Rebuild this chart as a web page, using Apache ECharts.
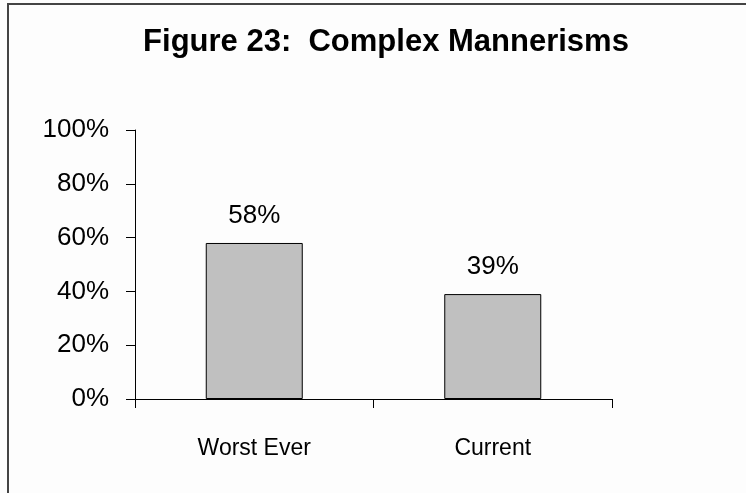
<!DOCTYPE html>
<html>
<head>
<meta charset="utf-8">
<script src="https://cdn.jsdelivr.net/npm/echarts@6/dist/echarts.min.js"></script>
<style>
html, body { margin: 0; padding: 0; background: #fdfdfd; }
#chart { width: 746px; height: 493px; }
</style>
</head>
<body>
<div id="chart"></div>
<script>
var titleText = 'Figure 23:  Complex Mannerisms';
var categories = ['Worst Ever', 'Current'];
var values = [58, 39];
var yTicks = { min: 0, max: 100, step: 20 };

var chart = echarts.init(document.getElementById('chart'));
chart.setOption({
    backgroundColor: '#fdfdfd',
    animation: false,
    title: {
        text: titleText,
        left: 381,
        top: 22,
        textAlign: 'center',
        textStyle: {
            fontFamily: 'Liberation Sans, Arial, sans-serif',
            fontWeight: 'bold',
            fontSize: 31,
            color: '#000'
        }
    },
    graphic: [{
        type: 'rect',
        shape: { x: 8, y: 4, width: 800, height: 600 },
        style: { fill: 'none', stroke: '#444', lineWidth: 2 },
        silent: true
    }],
    grid: {
        left: 135,
        right: 134,
        top: 130,
        bottom: 94
    },
    xAxis: {
        type: 'category',
        data: categories,
        boundaryGap: true,
        axisLine: { lineStyle: { color: '#000', width: 1 } },
        axisTick: { show: true, interval: 0, length: 9, lineStyle: { color: '#000' } },
        axisLabel: {
            margin: 38,
            fontFamily: 'Liberation Sans, Arial, sans-serif',
            fontSize: 23,
            color: '#000'
        }
    },
    yAxis: {
        type: 'value',
        min: yTicks.min,
        max: yTicks.max,
        interval: yTicks.step,
        splitLine: { show: false },
        axisLine: { show: true, lineStyle: { color: '#000', width: 1 } },
        axisTick: { show: true, length: 9, lineStyle: { color: '#000' } },
        axisLabel: {
            margin: 26,
            formatter: '{value}%',
            fontFamily: 'Liberation Sans, Arial, sans-serif',
            fontSize: 26,
            color: '#000'
        }
    },
    series: [{
        type: 'bar',
        data: values,
        barWidth: 97,
        itemStyle: {
            color: '#c0c0c0',
            borderColor: '#000',
            borderWidth: 1
        },
        label: {
            show: true,
            position: 'top',
            distance: 14,
            formatter: '{c}%',
            fontFamily: 'Liberation Sans, Arial, sans-serif',
            fontSize: 26,
            color: '#000'
        }
    }]
});
</script>
</body>
</html>
